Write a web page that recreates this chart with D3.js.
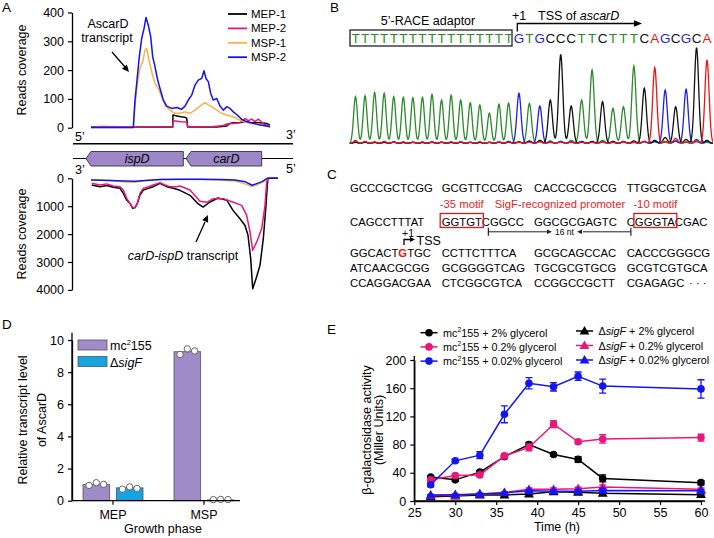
<!DOCTYPE html>
<html><head><meta charset="utf-8">
<script src="https://cdn.jsdelivr.net/npm/d3@7"></script>
<style>
body{margin:0;background:#fff}
svg{display:block}
text{font-family:"Liberation Sans",Arial,Helvetica,sans-serif}
</style></head>
<body><svg id="c" width="714" height="538"></svg>
<script>
// ================= DATA =================
// Panel A
const aSeries=["MEP-1","MEP-2","MSP-1","MSP-2"];
const aColors=["#000000","#e8177f","#f9b14d","#1212ee"];
const aTopTicks=[0,100,200,300,400];
const aBotTicks=[0,1000,2000,3000,4000];
const aTopMEP1=[[0,2],[500,2],[817,2],[820,44],[860,41],[900,38],[940,36],[957,33],[967,2],[1257,2],[1357,6],[1390,15],[1423,17],[1490,18],[1557,21],[1590,18],[1623,17],[1690,17],[1757,15],[1790,9]];
const aTopMEP2=[[0,2],[100,4],[300,3],[423,2],[817,3],[822,24],[900,21],[957,20],[967,2],[1207,3],[1323,8],[1357,13],[1423,15],[1490,17],[1540,32],[1573,24],[1607,30],[1640,21],[1673,30],[1723,13],[1790,3]];
const aTopMSP1=[[0,1],[423,1],[440,73],[463,154],[490,206],[517,229],[540,269],[557,275],[583,229],[607,194],[640,154],[673,136],[707,108],[740,79],[790,61],[840,50],[890,50],[940,55],[990,50],[1040,61],[1090,75],[1140,87],[1173,79],[1207,73],[1257,61],[1307,50],[1357,44],[1423,38],[1473,29],[1523,21],[1590,15],[1657,13],[1723,8],[1790,3]];
const aTopMSP2=[[0,1],[423,1],[440,96],[457,154],[483,246],[507,310],[530,344],[550,383],[573,356],[597,316],[617,246],[640,212],[663,171],[690,136],[723,96],[757,75],[807,67],[857,70],[907,64],[940,75],[973,96],[1007,113],[1040,148],[1073,165],[1107,171],[1130,198],[1150,171],[1173,160],[1197,119],[1223,96],[1257,102],[1290,75],[1323,61],[1357,73],[1390,67],[1423,55],[1463,44],[1507,29],[1557,21],[1623,15],[1690,9],[1757,6],[1790,3]];
const aBotMEP1=[[7,240],[90,300],[157,260],[223,320],[290,360],[323,540],[357,780],[390,900],[417,1075],[440,1050],[463,900],[490,600],[523,420],[573,360],[623,300],[690,180],[757,300],[823,360],[890,430],[990,610],[1070,910],[1120,1030],[1190,850],[1270,705],[1360,790],[1420,1150],[1490,1450],[1540,1690],[1570,2040],[1597,2880],[1617,3957],[1650,3600],[1690,3120],[1723,2165],[1750,970],[1763,250],[1770,0],[1870,0]];
const aBotMEP2=[[7,180],[90,240],[157,200],[223,275],[290,300],[323,420],[357,720],[390,900],[417,1050],[440,1050],[463,900],[490,540],[523,360],[573,300],[623,240],[690,155],[740,240],[790,300],[857,300],[890,276],[990,420],[1090,825],[1157,860],[1223,730],[1323,730],[1423,860],[1507,970],[1557,1330],[1590,1925],[1617,2580],[1657,2280],[1707,1800],[1740,970],[1757,130],[1770,0],[1870,0]];
const aBotMSP1=[[0,50],[190,80],[340,130],[440,140],[540,90],[690,40],[1090,40],[1290,60],[1440,100],[1540,200],[1610,300],[1670,220],[1730,120],[1760,10],[1790,0]];
const aBotMSP2=[[0,60],[190,80],[340,100],[440,110],[540,80],[690,40],[890,30],[1090,30],[1290,40],[1440,60],[1540,120],[1610,250],[1650,200],[1710,120],[1750,30],[1770,0],[1870,0]];
const genes=[{name:"ispD",start:-50,end:923},{name:"carD",start:950,end:1707}];

// Panel B
const chromSeq="TTTTTTTTTTTTTTTTTGTGCCCTTCTTTCAGCGCA";
const chromT=[488,498,530,523,488,481,477,481,512,453,502,453,425,401,314,408,420,15,418,20,25,20,30,453,767,30,366,383,808,20,15,10,20,10,15,10];
const chromG=[15,10,12,10,15,10,12,10,15,10,12,15,10,12,10,15,20,523,25,390,15,20,15,10,20,15,10,20,10,15,20,557,25,564,40,25];
const chromC=[10,12,8,10,12,8,10,8,10,12,8,10,10,8,10,10,12,15,20,30,453,930,390,20,15,436,20,15,25,575,30,60,383,40,1000,30];
const chromA=[30,20,15,20,12,15,10,15,12,10,15,12,10,15,10,12,15,10,12,15,10,12,10,15,10,12,10,15,10,20,791,20,50,15,25,871];

// Panel C
const seqRows=[
 ["GCCCGCTCGG","GCGTTCCGAG","CACCGCGCCG","TTGGCGTCGA"],
 ["CAGCCTTTAT","GGTGTCGGCC","GGCGCGAGTC","CGGGTACGAC"],
 ["GGCACTGTGC","CCTTCTTTCA","GCGCAGCCAC","CACCCGGGCG"],
 ["ATCAACGCGG","GCGGGGTCAG","TGCGCGTGCG","GCGTCGTGCA"],
 ["CCAGGACGAA","CTCGGCGTCA","CCGGCCGCTT","CGAGAGC"]];

// Panel D
const dGroups=["MEP","MSP"];
const dStrains=["mc155","sigF"];
const dMeans={MEP:[1.0,0.8],MSP:[9.27,0.05]};
const dPoints={MEP:[[0.95,1.12,1.02],[0.72,0.86,0.76]],MSP:[[9.1,9.45,9.32],[0.07,0.08,0.07]]};
const dTicks=[0,2,4,6,8,10];
const dColors=["#a08bc9","#14a4e2"];

// Panel E
const tE=[27,30,33,36,39,42,45,48,60];
const mc2=[34,30,41,63,80,66,59,32,26],       mc2Err=[2,2,2,3,3,2,4,5,3];
const mc02=[30,36,37,64,76,109,84,88,90],     mc02Err=[2,2,3,3,5,5,3,6,5];
const mc002=[23,57,65,123,167,162,177,163,159],mc002Err=[3,2,5,12,8,6,6,10,13];
const sig2=[6,7,8.5,8.5,10,13,12.5,11,9],      sig2Err=[1,1,1,1,1,1.5,1.5,1.5,1];
const sig02=[7.5,8,10,12,16.5,16.5,17.5,20,16.5], sig02Err=[1,1,1,1,2,2,2,3,2];
const sig002=[8.5,9,10,11.5,14.5,14,14,15,14.5], sig002Err=[1,1,1,1,2,2,2,3,2];
const eXTicks=[25,30,35,40,45,50,55,60];
const eYTicks=[0,40,80,120,160,200];

// ================= DRAW =================
const svg=d3.select("#c");
const BLACK="#000";
function styleAxis(g,fs){
  g.select(".domain").attr("stroke",BLACK).attr("stroke-width",1.3);
  g.selectAll(".tick line").attr("stroke",BLACK).attr("stroke-width",1.2);
  g.selectAll(".tick text").attr("font-size",fs).attr("fill",BLACK).style("font-family",'"Liberation Sans",Arial,sans-serif');
}
function panelLabel(t,x,y){svg.append("text").attr("x",x).attr("y",y).attr("font-size",13.5).text(t);}
function arrowHead(g,x,y,ang,len,w,col){
  const a=ang*Math.PI/180;
  const bx=x-len*Math.cos(a), by=y-len*Math.sin(a);
  const px=-Math.sin(a)*w, py=Math.cos(a)*w;
  g.append("path").attr("d",`M${x},${y}L${bx+px},${by+py}L${bx-px},${by-py}Z`).attr("fill",col||BLACK);
}
const fmtD=d3.format("d");

// ---------- Panel A ----------
panelLabel("A",2,12);
const gA=svg.append("g");
const xA=d3.scaleLinear().domain([0,1870]).range([91,278]);
const yAt=d3.scaleLinear().domain([0,400]).range([127.7,12.5]);
const yAb=d3.scaleLinear().domain([0,4000]).range([178.3,289.9]);
const axT=gA.append("g").attr("transform","translate(72,0)").call(d3.axisLeft(yAt).tickValues(aTopTicks).tickFormat(fmtD).tickSize(4).tickSizeOuter(0).tickPadding(4));
styleAxis(axT,12.5);
const axB=gA.append("g").attr("transform","translate(72,0)").call(d3.axisLeft(yAb).tickValues(aBotTicks).tickFormat(fmtD).tickSize(4).tickSizeOuter(0).tickPadding(4));
styleAxis(axB,12.5);
gA.append("text").attr("transform","translate(26,70) rotate(-90)").attr("text-anchor","middle").attr("font-size",12.5).text("Reads coverage");
gA.append("text").attr("transform","translate(26,234) rotate(-90)").attr("text-anchor","middle").attr("font-size",12.5).text("Reads coverage");
const lineTop=d3.line().x(d=>xA(d[0])).y(d=>yAt(d[1]));
const lineBot=d3.line().x(d=>xA(d[0])).y(d=>yAb(d[1]));
[aTopMEP1,aTopMEP2,aTopMSP1,aTopMSP2].forEach((s,i)=>gA.append("path").attr("d",lineTop(s)).attr("fill","none").attr("stroke",aColors[i]).attr("stroke-width",1.5).attr("stroke-linejoin","round"));
[aBotMEP1,aBotMEP2,aBotMSP1,aBotMSP2].forEach((s,i)=>gA.append("path").attr("d",lineBot(s)).attr("fill","none").attr("stroke",aColors[i]).attr("stroke-width",1.5).attr("stroke-linejoin","round"));
// legend
aSeries.forEach((n,i)=>{
  const y=14+i*14.4;
  gA.append("line").attr("x1",228).attr("x2",247).attr("y1",y).attr("y2",y).attr("stroke",aColors[i]).attr("stroke-width",1.8);
  gA.append("text").attr("x",251).attr("y",y+4).attr("font-size",11.5).text(n);
});
// annotation top
gA.append("text").attr("x",108).attr("y",27.5).attr("text-anchor","middle").attr("font-size",12.5).text("AscarD");
gA.append("text").attr("x",107).attr("y",42).attr("text-anchor","middle").attr("font-size",12.5).text("transcript");
gA.append("line").attr("x1",112).attr("y1",52).attr("x2",125).attr("y2",67).attr("stroke",BLACK).attr("stroke-width",1.3);
arrowHead(gA,129,72,Math.atan2(72-52,129-112)*180/Math.PI,7,3.2);
// strand labels & gene map
gA.append("text").attr("x",75).attr("y",141).attr("font-size",12.5).text("5’");
gA.append("text").attr("x",286).attr("y",139).attr("font-size",12.5).text("3’");
gA.append("line").attr("x1",73).attr("x2",293).attr("y1",143.8).attr("y2",143.8).attr("stroke",BLACK).attr("stroke-width",1.4);
gA.append("line").attr("x1",73).attr("x2",293).attr("y1",158.5).attr("y2",158.5).attr("stroke",BLACK).attr("stroke-width",1);
genes.forEach(g=>{
  const x0=xA(g.start), x1=xA(g.end), xb=x0+5, yt=151.5, yb=166, ym=158.5;
  gA.append("path").attr("d",`M${x0},${ym}L${xb},${yt}L${x1},${yt}L${x1},${yb}L${xb},${yb}Z`).attr("fill","#9d87c9").attr("stroke","#333").attr("stroke-width",0.9);
  gA.append("text").attr("x",(xb+x1)/2).attr("y",163).attr("text-anchor","middle").attr("font-size",12.5).attr("font-style","italic").text(g.name);
});
gA.append("text").attr("x",75).attr("y",174).attr("font-size",12.5).text("3’");
gA.append("text").attr("x",286).attr("y",172.5).attr("font-size",12.5).text("5’");
// annotation bottom
const tb=gA.append("text").attr("x",183).attr("y",259.5).attr("text-anchor","middle").attr("font-size",12.5);
tb.append("tspan").attr("font-style","italic").text("carD-ispD");
tb.append("tspan").text(" transcript");
gA.append("line").attr("x1",196).attr("y1",242).attr("x2",205).attr("y2",222).attr("stroke",BLACK).attr("stroke-width",1.3);
arrowHead(gA,208,215,Math.atan2(215-242,208-196)*180/Math.PI,7,3.2);

// ---------- Panel B ----------
panelLabel("B",330,12);
const gB=svg.append("g");
const xB=d3.scaleLinear().domain([0,16,35]).range([355.5,508.5,707]);
const yB=d3.scaleLinear().domain([0,1000]).range([143.3,47.7]);
const baseCol={T:"#2b8a2b",G:"#1f1fe6",C:"#111",A:"#ec1515"};
gB.append("text").attr("x",428).attr("y",24.5).attr("text-anchor","middle").attr("font-size",12.5).text("5’-RACE adaptor");
gB.append("text").attr("x",512).attr("y",19.5).attr("font-size",12.5).text("+1");
const tss=gB.append("text").attr("x",538).attr("y",19.5).attr("font-size",12.5);
tss.append("tspan").text("TSS of ");
tss.append("tspan").attr("font-style","italic").text("ascarD");
gB.append("path").attr("d","M517.3,31.5V23.5H634").attr("fill","none").attr("stroke",BLACK).attr("stroke-width",1.3);
arrowHead(gB,642,23.5,0,8,3.3);
gB.append("rect").attr("x",350).attr("y",30).attr("width",162).attr("height",16).attr("fill","none").attr("stroke","#222").attr("stroke-width",1.3);
chromSeq.split("").forEach((b,i)=>{
  gB.append("text").attr("x",xB(i)).attr("y",43).attr("text-anchor","middle").attr("font-size",13.5).attr("fill",baseCol[b]).text(b);
});
const sig=0.2;
const samples=d3.range(-0.6,35.6,0.04);
const chans=[["T",chromT],["G",chromG],["C",chromC],["A",chromA]];
const chromLine=d3.line().x(d=>xB(d[0])).y(d=>yB(d[1]));
chans.forEach(([b,h])=>{
  const pts=samples.map(s=>[s,d3.sum(h,(v,i)=>v*Math.exp(-((s-i)*(s-i))/(2*sig*sig)))]);
  gB.append("path").attr("d",chromLine(pts)).attr("fill","none").attr("stroke",baseCol[b]).attr("stroke-width",1.3);
});

// ---------- Panel C ----------
panelLabel("C",327,179);
const gC=svg.append("g");
const colX=[350,441.7,534,626.7];
const rowY=[192.3,225.7,257.3,272.3,287.3];
const CFS=11.3;
const txtNodes=[];
seqRows.forEach((row,r)=>{
  txtNodes[r]=[];
  row.forEach((s,c)=>{
    const t=gC.append("text").attr("x",colX[c]).attr("y",rowY[r]).attr("font-size",CFS);
    if(r===2&&c===0){
      t.append("tspan").text(s.slice(0,6));
      t.append("tspan").attr("fill","#ec1515").attr("font-weight","bold").text(s.slice(6,7));
      t.append("tspan").text(s.slice(7));
    } else t.text(s);
    txtNodes[r][c]=t.node();
  });
});
gC.append("text").attr("x",689).attr("y",rowY[4]).attr("font-size",CFS).text("· · ·");
function subLen(node,a,n){return node.getSubStringLength(a,n);}
const b1x0=colX[1]-1.5, b1x1=colX[1]+subLen(txtNodes[1][1],0,5)+1.5;
const b2x0=colX[3]+subLen(txtNodes[1][3],0,1)-1, b2x1=colX[3]+subLen(txtNodes[1][3],0,6)+2;
[[b1x0,b1x1],[b2x0,b2x1]].forEach(([a,b])=>gC.append("rect").attr("x",a).attr("y",213.5).attr("width",b-a).attr("height",14).attr("fill","none").attr("stroke","#e8141c").attr("stroke-width",1.3));
const red="#ec1c24";
gC.append("text").attr("x",(b1x0+b1x1)/2).attr("y",208).attr("text-anchor","middle").attr("font-size",CFS).attr("fill",red).text("-35 motif");
gC.append("text").attr("x",560).attr("y",208).attr("text-anchor","middle").attr("font-size",CFS).attr("fill",red).text("SigF-recognized promoter");
gC.append("text").attr("x",(b2x0+b2x1)/2).attr("y",208).attr("text-anchor","middle").attr("font-size",CFS).attr("fill",red).text("-10 motif");
// 16 nt
const nl=b1x1+5, nr=b2x0-3, ny=231.8;
gC.append("line").attr("x1",nl).attr("x2",548).attr("y1",ny).attr("y2",ny).attr("stroke","#222").attr("stroke-width",1);
gC.append("line").attr("x1",583).attr("x2",nr).attr("y1",ny).attr("y2",ny).attr("stroke","#222").attr("stroke-width",1);
gC.append("line").attr("x1",nl).attr("x2",nl).attr("y1",ny-4).attr("y2",ny+4).attr("stroke","#222").attr("stroke-width",1.2);
gC.append("line").attr("x1",nr).attr("x2",nr).attr("y1",ny-4).attr("y2",ny+4).attr("stroke","#222").attr("stroke-width",1.2);
arrowHead(gC,552,ny,0,5,2.3,"#222");
arrowHead(gC,577,ny,180,5,2.3,"#222");
gC.append("text").attr("x",564.5).attr("y",ny+3.2).attr("text-anchor","middle").attr("font-size",8.5).text("16 nt");
// +1 TSS
gC.append("text").attr("x",402).attr("y",236.5).attr("font-size",10.5).text("+1");
gC.append("path").attr("d","M404,245V239.5H410").attr("fill","none").attr("stroke",BLACK).attr("stroke-width",1.3);
arrowHead(gC,415,239.5,0,5,2.6);
gC.append("text").attr("x",416.5).attr("y",244.5).attr("font-size",12.5).text("TSS");

// ---------- Panel D ----------
panelLabel("D",2,329);
const gD=svg.append("g");
const yD=d3.scaleLinear().domain([0,10]).range([500.7,340]);
const xDg=d3.scalePoint().domain(dGroups).range([113,204]);
const xDs=d3.scaleBand().domain(dStrains).range([-30,30]).paddingInner(0.2);
gD.append("line").attr("x1",72).attr("x2",72).attr("y1",yD(10.45)).attr("y2",yD(0)).attr("stroke",BLACK).attr("stroke-width",1.3);
const axD=gD.append("g").attr("transform","translate(72,0)").call(d3.axisLeft(yD).tickValues(dTicks).tickSize(4).tickSizeOuter(0).tickPadding(4));
styleAxis(axD,12.5);
dGroups.forEach(g=>{
  dStrains.forEach((s,j)=>{
    const x0=xDg(g)+xDs(s), w=xDs.bandwidth();
    gD.append("rect").attr("x",x0).attr("y",yD(dMeans[g][j])).attr("width",w).attr("height",yD(0)-yD(dMeans[g][j])).attr("fill",dColors[j]).attr("stroke","#555").attr("stroke-width",0.8);
    dPoints[g][j].forEach((v,k)=>{
      gD.append("circle").attr("cx",x0+w/2+(k-1)*7.3).attr("cy",yD(v)).attr("r",3.2).attr("fill","#fff").attr("stroke","#555").attr("stroke-width",0.9);
    });
  });
});
gD.append("line").attr("x1",72).attr("x2",240).attr("y1",yD(0)).attr("y2",yD(0)).attr("stroke",BLACK).attr("stroke-width",1.3);
dGroups.forEach(g=>{
  gD.append("line").attr("x1",xDg(g)).attr("x2",xDg(g)).attr("y1",yD(0)).attr("y2",yD(0)+4).attr("stroke",BLACK).attr("stroke-width",1.2);
  gD.append("text").attr("x",xDg(g)).attr("y",518.5).attr("text-anchor","middle").attr("font-size",12.5).text(g);
});
gD.append("text").attr("x",163).attr("y",533).attr("text-anchor","middle").attr("font-size",12.5).text("Growth phase");
gD.append("text").attr("transform","translate(27,420) rotate(-90)").attr("text-anchor","middle").attr("font-size",12.5).text("Relative transcript level");
gD.append("text").attr("transform","translate(46,420) rotate(-90)").attr("text-anchor","middle").attr("font-size",12.5).text("of AscarD");
// legend
gD.append("rect").attr("x",78).attr("y",340).attr("width",29).attr("height",10).attr("fill",dColors[0]).attr("stroke","#555").attr("stroke-width",0.8);
gD.append("rect").attr("x",78).attr("y",356.5).attr("width",29).attr("height",10).attr("fill",dColors[1]).attr("stroke","#555").attr("stroke-width",0.8);
const l1=gD.append("text").attr("x",110).attr("y",350).attr("font-size",12.5);
l1.append("tspan").text("mc");l1.append("tspan").attr("font-size",7.5).attr("dy",-5).text("2");l1.append("tspan").attr("dy",5).text("155");
const l2=gD.append("text").attr("x",110).attr("y",366.5).attr("font-size",12.5);
l2.append("tspan").text("Δ");l2.append("tspan").attr("font-style","italic").text("sigF");

// ---------- Panel E ----------
panelLabel("E",327,334);
const gE=svg.append("g");
const xE=d3.scaleLinear().domain([25,60]).range([414.3,701]);
const yE=d3.scaleLinear().domain([0,200]).range([501,360]);
const axEx=gE.append("g").attr("transform","translate(0,501)").call(d3.axisBottom(xE).tickValues(eXTicks).tickSize(4).tickSizeOuter(0).tickPadding(3));
styleAxis(axEx,12.5);
gE.append("line").attr("x1",414.3).attr("x2",705).attr("y1",501).attr("y2",501).attr("stroke",BLACK).attr("stroke-width",1.3);
const axEy=gE.append("g").attr("transform","translate(414.3,0)").call(d3.axisLeft(yE).tickValues(eYTicks).tickSize(4).tickSizeOuter(0).tickPadding(4));
styleAxis(axEy,12.5);
gE.append("line").attr("x1",414.3).attr("x2",414.3).attr("y1",356).attr("y2",501).attr("stroke",BLACK).attr("stroke-width",1.3);
gE.append("text").attr("x",557).attr("y",531).attr("text-anchor","middle").attr("font-size",12.5).text("Time (h)");
gE.append("text").attr("transform","translate(371,430) rotate(-90)").attr("text-anchor","middle").attr("font-size",12.5).text("β-galactosidase activity");
gE.append("text").attr("transform","translate(383,430) rotate(-90)").attr("text-anchor","middle").attr("font-size",12.5).text("(Miller Units)");
const eCol={k:"#000",p:"#e8177f",b:"#1515f0"};
const eSeries=[
 {v:sig2,e:sig2Err,c:eCol.k,m:"tri"},{v:sig02,e:sig02Err,c:eCol.p,m:"tri"},{v:sig002,e:sig002Err,c:eCol.b,m:"tri"},
 {v:mc2,e:mc2Err,c:eCol.k,m:"cir"},{v:mc02,e:mc02Err,c:eCol.p,m:"cir"},{v:mc002,e:mc002Err,c:eCol.b,m:"cir"}];
const triPath=d3.symbol().type(d3.symbolTriangle).size(42)();
function marker(g,m,x,y,c){
  if(m==="cir") g.append("circle").attr("cx",x).attr("cy",y).attr("r",3.8).attr("fill",c);
  else g.append("path").attr("d",triPath).attr("transform",`translate(${x},${y+0.6})`).attr("fill",c);
}
const lineE=d3.line();
eSeries.forEach(s=>{
  const pts=tE.map((t,i)=>[xE(t),yE(s.v[i])]);
  gE.append("path").attr("d",lineE(pts)).attr("fill","none").attr("stroke",s.c).attr("stroke-width",1.5);
  tE.forEach((t,i)=>{
    const x=xE(t), y1=yE(s.v[i]+s.e[i]), y2=yE(s.v[i]-s.e[i]);
    gE.append("path").attr("d",`M${x},${y1}V${y2}M${x-3.5},${y1}H${x+3.5}M${x-3.5},${y2}H${x+3.5}`).attr("stroke",s.c).attr("stroke-width",1.3).attr("fill","none");
  });
  tE.forEach((t,i)=>marker(gE,s.m,xE(t),yE(s.v[i]),s.c));
});
// legend
const legE=[
 {c:eCol.k,m:"cir",pct:"2%",col:0},{c:eCol.p,m:"cir",pct:"0.2%",col:0},{c:eCol.b,m:"cir",pct:"0.02%",col:0},
 {c:eCol.k,m:"tri",pct:"2%",col:1},{c:eCol.p,m:"tri",pct:"0.2%",col:1},{c:eCol.b,m:"tri",pct:"0.02%",col:1}];
legE.forEach((d,i)=>{
  const r=i%3;
  const y=d.col===0?332.7+r*14.2:331+r*14.5;
  const lx=d.col===0?420.5:576;
  gE.append("line").attr("x1",lx).attr("x2",lx+17).attr("y1",y).attr("y2",y).attr("stroke",d.c).attr("stroke-width",1.5);
  marker(gE,d.m,lx+8.5,y,d.c);
  const t=gE.append("text").attr("x",lx+22.5).attr("y",y+4).attr("font-size",10.8);
  if(d.col===0){
    t.append("tspan").text("mc");t.append("tspan").attr("font-size",6.8).attr("dy",-4.5).text("2");t.append("tspan").attr("dy",4.5).text("155 + "+d.pct+" glycerol");
  } else {
    t.append("tspan").text("Δ");t.append("tspan").attr("font-style","italic").text("sigF");t.append("tspan").text(" + "+d.pct+" glycerol");
  }
});
</script>
</body></html>
